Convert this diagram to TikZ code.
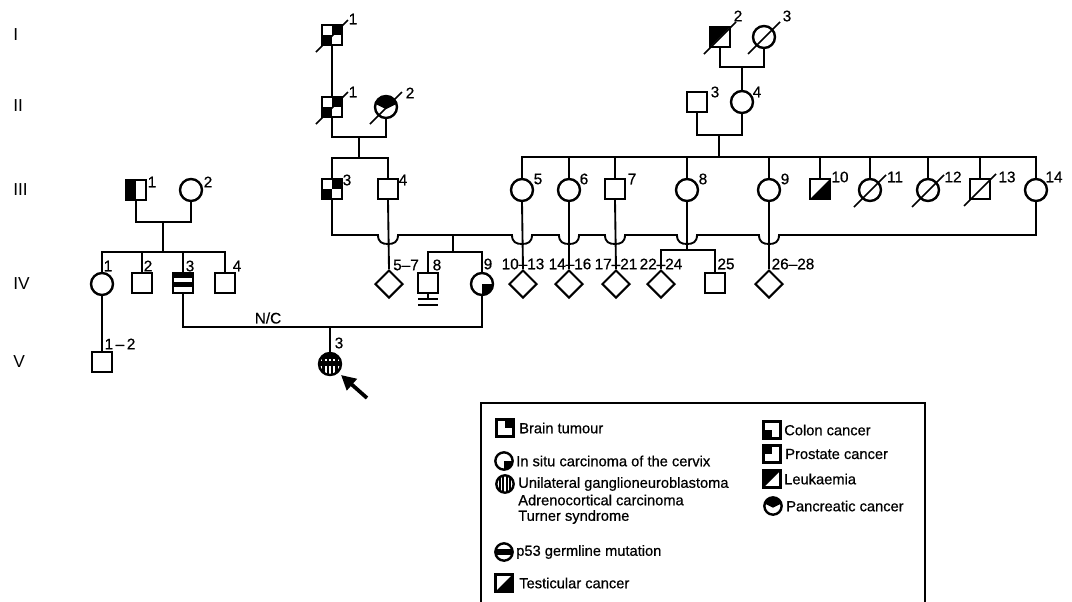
\documentclass[tikz,border=0pt]{standalone}
\usepackage{fontspec}
\setmainfont{Liberation Sans}[FakeBold=0.6]
\newfontfamily\genfont{Liberation Sans}
\usetikzlibrary{shapes.geometric,arrows.meta,calc}
\def\pb{path picture bounding box}
\newcommand\hop[1]{-- ({#1-10},235) .. controls ({#1-10},242) and ({#1-6},244) .. (#1,244) .. controls ({#1+6},244) and ({#1+10},242) .. ({#1+10},235)}
\begin{document}
\begin{tikzpicture}[x=0.75pt,y=-0.75pt,
  ln/.style={line width=1.4pt},
  dead/.style={line width=1.3pt},
  sym/.style={draw, line width=1.8pt, inner sep=0pt, fill=white},
  sq/.style={sym, rectangle, minimum size=15pt},
  ci/.style={sym, circle, minimum size=16.5pt},
  di/.style={sym, diamond, minimum size=21pt, line width=1.5pt},
  lsq/.style={sym, rectangle, minimum size=12.5pt},
  lci/.style={sym, circle, minimum size=13pt},
  num/.style={font=\fontsize{11.5}{13}\selectfont, inner sep=0pt},
  leg/.style={font=\fontsize{11}{13}\selectfont, inner sep=0pt, anchor=west},
  gen/.style={font=\genfont\fontsize{13}{15}\selectfont, inner sep=0pt, anchor=west},
  blk/.style={fill=black, draw=none},
  brain/.style={path picture={\path[blk] (\pb.center) rectangle (\pb.north east);}},
  colon/.style={path picture={\path[blk] (\pb.center) rectangle (\pb.south west);}},
  braincolon/.style={path picture={\path[blk] (\pb.center) rectangle (\pb.north east);
     \path[blk] (\pb.center) rectangle (\pb.south west);}},
  prostate/.style={path picture={\path[blk] (\pb.center) rectangle (\pb.north west);}},
  halfl/.style={path picture={\path[blk] (\pb.north west) rectangle (\pb.south);}},
  leuk/.style={path picture={\path[blk] (\pb.north west) -- (\pb.north east) -- (\pb.south west) -- cycle;}},
  testic/.style={path picture={\path[blk] (\pb.north east) -- (\pb.south east) -- (\pb.south west) -- cycle;}},
  insitu/.style={path picture={\path[blk] (\pb.center) rectangle (\pb.south east);}},
  band/.style={path picture={\path[blk] ($(\pb.west)+(0,-3)$) rectangle ($(\pb.east)+(0,3)$);}},
  sqband/.style={path picture={\path[blk] (\pb.north west) rectangle ($(\pb.north east)+(0,5)$);
     \path[blk] ($(\pb.west)+(0,-1)$) rectangle ($(\pb.east)+(0,4)$);}},
  stripes/.style={path picture={\foreach \f in {0.2,0.4,0.6,0.8}
     \draw[line width=1.4pt] ($(\pb.north west)!\f!(\pb.north east)$) -- ($(\pb.south west)!\f!(\pb.south east)$);}},
  stripesband/.style={path picture={\foreach \f in {0.2,0.4,0.6,0.8}
     \draw[line width=1.8pt] ($(\pb.north west)!\f!(\pb.north east)$) -- ($(\pb.south west)!\f!(\pb.south east)$);
     \path[blk] ($(\pb.west)+(0,-3)$) rectangle ($(\pb.east)+(0,2)$);
     \path[blk] (\pb.north west) rectangle ($(\pb.north east)+(0,6)$);}},
  pancr/.style={path picture={\path[blk] (\pb.north west) -- ($(\pb.north west)!0.35!(\pb.south west)$)
     -- ($(\pb.north)!0.6!(\pb.south)$) -- ($(\pb.north east)!0.35!(\pb.south east)$) -- (\pb.north east) -- cycle;}},
]
\useasboundingbox (0,0) rectangle (1072,601);

% generation labels
\node[gen] (gI) at (13,35) {I};
\node[gen] (gII) at (13,106) {II};
\node[gen] (gIII) at (13,190) {III};
\node[gen] (gIV) at (13,284) {IV};
\node[gen] (gV) at (13,362) {V};

% ---------- Generation I
\node[sq,braincolon] (I1) at (332,35) {};
\node[sq,leuk] (I2) at (720,37) {};
\node[ci] (I3) at (764,37) {};
% ---------- Generation II
\node[sq,braincolon] (II1) at (332,107) {};
\node[ci,pancr] (II2) at (386,107) {};
\node[sq] (II3) at (697,102) {};
\node[ci] (II4) at (742,102) {};
% ---------- Generation III
\node[sq,halfl] (III1) at (136,190) {};
\node[ci] (III2) at (191,190) {};
\node[sq,braincolon] (III3) at (332,189) {};
\node[sq] (III4) at (388,189) {};
\node[ci] (III5) at (522,190) {};
\node[ci] (III6) at (569,190) {};
\node[sq] (III7) at (615,189) {};
\node[ci] (III8) at (687,190) {};
\node[ci] (III9) at (769,190) {};
\node[sq,testic] (III10) at (820,189) {};
\node[ci] (III11) at (870,190) {};
\node[ci] (III12) at (928,190) {};
\node[sq] (III13) at (980,189) {};
\node[ci] (III14) at (1036,190) {};
% ---------- Generation IV
\node[ci] (IV1) at (102,284) {};
\node[sq] (IV2) at (142,283) {};
\node[sq,sqband] (IV3) at (183,283) {};
\node[sq] (IV4) at (225,283) {};
\node[di] (IV57) at (389,284) {};
\node[sq] (IV8) at (428,283) {};
\node[ci,insitu] (IV9) at (482,284) {};
\node[di] (IV1013) at (523,284) {};
\node[di] (IV1416) at (569,284) {};
\node[di] (IV1721) at (616,284) {};
\node[di] (IV2224) at (661,284) {};
\node[sq] (IV25) at (715,283) {};
\node[di] (IV2628) at (769,284) {};
% ---------- Generation V
\node[sq] (V12) at (102,362) {};
\node[ci,stripesband] (V3) at (330,364) {};

% ---------- deceased slashes
\foreach \n in {I1,II1,I2,I3,II2,III11,III12,III13}
  \draw[dead] (\n) ++(-16,17) -- ++(32,-32);

% ---------- connectors
\draw[ln] (I1) -- (II1);
\coordinate (m2) at (359,137);
\draw[ln] (II1.south) |- (m2) -| (II2.south);
\coordinate (s3a) at (359,158);
\draw[ln] (m2) -- (s3a);
\draw[ln] (III3.north) |- (s3a) -| (III4.north);

\coordinate (m1) at (742,67);
\draw[ln] (I2.south) |- (m1) -| (I3.south);
\draw[ln] (m1) -- (II4.north);
\coordinate (m3) at (719,135);
\draw[ln] (II3.south) |- (m3) -| (II4.south);
\coordinate (s3b) at (719,157);
\draw[ln] (m3) -- (s3b);
\draw[ln] (III5.north) |- (s3b) -| (III14.north);
\foreach \n in {III6,III7,III8,III9,III10,III11,III12,III13}
  \draw[ln] (\n.north) -- (\n.north |- s3b);

\coordinate (m4) at (163,222);
\draw[ln] (III1.south) |- (m4) -| (III2.south);
\coordinate (s4a) at (163,252);
\draw[ln] (m4) -- (s4a);
\draw[ln] (IV1.north) |- (s4a) -| (IV4.north);
\foreach \n in {IV2,IV3}
  \draw[ln] (\n.north) -- (\n.north |- s4a);

% marriage III-3 x III-14 with hops
\draw[ln] (III3.south) -- (332,235) \hop{388} \hop{522} \hop{569} \hop{615} \hop{687} \hop{769} -- (1036,235) -- (III14.south);
\coordinate (m5) at (453,235);
\coordinate (s4b) at (453,252);
\draw[ln] (m5) -- (s4b);
\draw[ln] (IV8.north) |- (s4b) -| (IV9.north);

\draw[ln] (III4.south) -- (IV57.north);
\draw[ln] (III5.south) -- (IV1013.north);
\draw[ln] (III6.south) -- (IV1416.north);
\draw[ln] (III7.south) -- (IV1721.north);
\draw[ln] (III9.south) -- (IV2628.north);
\coordinate (s4c) at (687,250);
\draw[ln] (III8.south) -- (s4c);
\draw[ln] (IV2224.north) |- (s4c) -| (IV25.north);

% IV-8 no offspring
\coordinate (inf) at (428,299);
\draw[ln] (IV8.south) -- (inf);
\draw[ln] ($(inf)+(-10,0)$) -- ($(inf)+(10,0)$);
\draw[ln] ($(inf)+(-10,6)$) -- ($(inf)+(10,6)$);

% IV-3 x IV-9
\coordinate (m6) at (330,327);
\draw[ln] (IV3.south) |- (m6) -| (IV9.south);
\draw[ln] (m6) -- (V3.north);
\node[num] (nc) at (268,318) {N/C};
\draw[ln] (IV1.south) -- (V12.north);

% proband arrow
\coordinate (at) at (367,398);
\coordinate (ah) at (341,375);
\draw[line width=2.8pt, -{Triangle[length=11pt,width=11pt]}] (at) -- (ah);

% ---------- numbers
\node[num] at (353,19) {1};
\node[num] at (353,92) {1};
\node[num] at (410,93) {2};
\node[num] at (738,16) {2};
\node[num] at (787,16) {3};
\node[num] at (715,92) {3};
\node[num] at (757,92) {4};
\node[num] at (152,182) {1};
\node[num] at (208,182) {2};
\node[num] at (347,180) {3};
\node[num] at (403,180) {4};
\node[num] at (538,179) {5};
\node[num] at (584,179) {6};
\node[num] at (632,179) {7};
\node[num] at (703,179) {8};
\node[num] at (785,179) {9};
\node[num] at (840,177) {10};
\node[num] at (895,177) {11};
\node[num] at (953,177) {12};
\node[num] at (1007,177) {13};
\node[num] at (1054,177) {14};
\node[num] at (108,266) {1};
\node[num] at (148,266) {2};
\node[num] at (190,266) {3};
\node[num] at (237,266) {4};
\node[num] at (406,265) {5--7};
\node[num] at (437,265) {8};
\node[num] at (488,264) {9};
\node[num] at (523,264) {10--13};
\node[num] at (570,264) {14--16};
\node[num] at (616,264) {17--21};
\node[num] at (661,264) {22--24};
\node[num] at (726,264) {25};
\node[num] at (793,264) {26--28};
\node[num] at (120,344) {1\,--\,2};
\node[num] at (339,343) {3};

% ---------- legend
\draw[line width=1.3pt] (481,602) -- (481,403) -- (925,403) -- (925,602);
\node[lsq,brain] (lb) at (505,428) {};
\node[leg] at (519,428) {Brain tumour};
\node[lci,insitu] (li) at (504,461) {};
\node[leg] at (516,461) {In situ carcinoma of the cervix};
\node[lci,stripes] (lu) at (505,484) {};
\node[leg] at (518,484) {Unilateral ganglioneuroblastoma};
\node[leg] at (518,500) {Adrenocortical carcinoma};
\node[leg] at (518,517) {Turner syndrome};
\node[lci,band] (lp) at (504,552) {};
\node[leg] at (516,552) {p53 germline mutation};
\node[lsq,testic] (lt) at (504,583) {};
\node[leg] at (519,583) {Testicular cancer};
\node[lsq,colon] (lc) at (772,430) {};
\node[leg] at (784,430) {Colon cancer};
\node[lsq,prostate] (lpr) at (772,454) {};
\node[leg] at (785,454) {Prostate cancer};
\node[lsq,leuk] (ll) at (772,479) {};
\node[leg] at (784,479) {Leukaemia};
\node[lci,pancr] (lpa) at (773,506) {};
\node[leg] at (786,506) {Pancreatic cancer};
\end{tikzpicture}
\end{document}
